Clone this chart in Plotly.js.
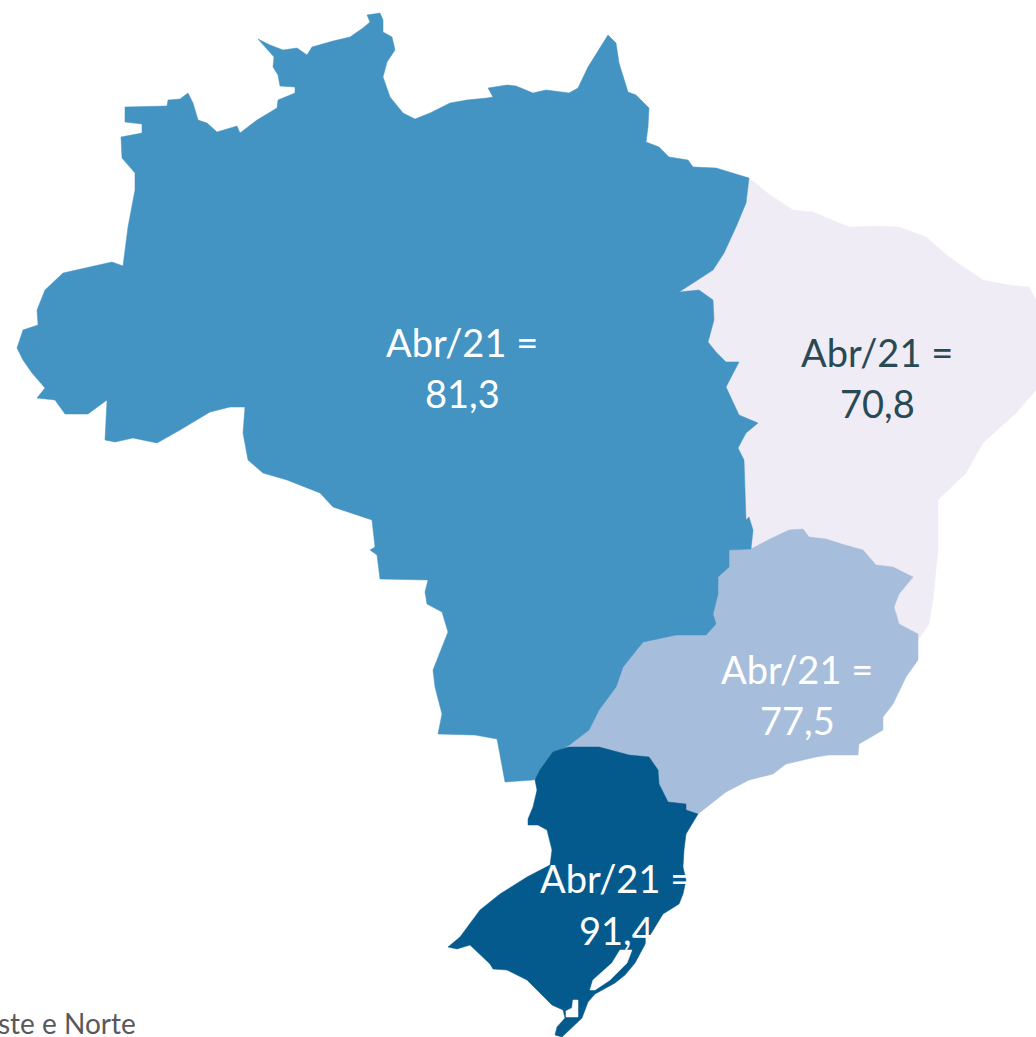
<!DOCTYPE html>
<html><head><meta charset="utf-8">
<script src="https://cdn.plot.ly/plotly-3.0.1.min.js"></script>
<style>html,body{margin:0;padding:0;background:#fff}#c{width:1036px;height:1037px}</style>
</head><body><div id="c"></div>
<script>
const regionNames = ["Nordeste","Sudeste","Centro-Oeste e Norte","Sul"];
const regionValues = ["70,8","77,5","81,3","91,4"];
const periodLabel = "Abr/21 =";
const footnote = "ste e Norte";
const nordesteOutline = [[749,178],[770,195],[793,210],[813,212],[849,227],[875,226],[899,227],[926,237],[949,257],[983,280],[1009,285],[1029,287],[1036,300],[1036,390],[1016,413],[983,443],[966,473],[946,493],[938,500],[938,550],[933,600],[929,624],[918,640],[880,620],[820,600],[740,600],[700,400],[680,292]];
const sudesteOutline = [[751,549],[770,539],[789,530],[803,529],[809,537],[826,539],[845,545],[863,550],[876,565],[893,567],[913,577],[899,594],[894,607],[899,624],[918,634],[918,660],[906,677],[893,704],[883,717],[883,730],[859,744],[858,755],[829,755],[816,757],[786,764],[773,774],[749,780],[726,792],[698,814],[680,815],[660,805],[640,770],[568,746],[650,600],[729,550]];
const centroNorteOutline = [[125,107],[167,106],[168,100],[180,99],[188,93],[193,103],[198,120],[207,123],[217,132],[230,128],[237,126],[240,133],[257,120],[277,108],[278,100],[295,93],[295,87],[280,86],[278,75],[273,67],[274,57],[258,39],[270,45],[283,50],[297,48],[307,55],[312,47],[333,41],[350,37],[363,28],[370,22],[367,15],[380,13],[383,20],[383,32],[392,37],[395,50],[387,62],[383,77],[390,97],[403,113],[415,119],[430,113],[450,103],[467,100],[487,98],[493,97],[488,88],[507,85],[516,86],[533,93],[546,90],[569,93],[578,88],[588,67],[608,35],[616,43],[619,63],[628,92],[636,95],[649,108],[648,127],[646,142],[659,147],[669,157],[688,160],[693,167],[716,168],[749,178],[746,203],[736,227],[724,253],[713,270],[693,283],[679,292],[699,290],[713,300],[714,320],[708,342],[716,352],[726,362],[739,362],[736,368],[726,387],[739,415],[758,423],[746,433],[738,448],[744,460],[746,520],[749,517],[753,530],[751,549],[729,550],[729,567],[718,577],[718,594],[713,614],[716,624],[706,635],[676,635],[643,642],[623,667],[616,687],[599,710],[589,730],[568,746],[556,752],[543,770],[536,779],[533,780],[505,782],[498,744],[497,739],[475,735],[438,734],[442,714],[435,687],[433,670],[448,632],[442,612],[427,604],[425,592],[428,580],[380,579],[377,555],[370,550],[375,547],[372,520],[333,507],[320,493],[287,480],[263,473],[248,460],[243,433],[245,407],[230,407],[210,412],[180,430],[157,443],[133,438],[115,442],[105,440],[107,400],[88,414],[65,414],[55,400],[37,398],[45,388],[32,373],[23,360],[17,348],[23,330],[38,325],[37,310],[45,290],[63,273],[97,265],[112,262],[123,266],[128,227],[135,190],[135,173],[122,158],[121,137],[142,133],[142,124],[125,122]];
const sulOutline = [[568,747],[599,747],[629,755],[649,757],[658,770],[659,784],[668,802],[686,804],[686,810],[698,814],[686,834],[684,850],[683,867],[686,880],[683,894],[679,904],[663,914],[649,937],[642,950],[635,963],[625,975],[615,983],[595,994],[588,1002],[582,1018],[567,1032],[562,1037],[555,1035],[557,1027],[565,1018],[563,1010],[552,1005],[540,993],[527,980],[507,970],[493,969],[490,964],[470,945],[457,949],[448,947],[460,937],[480,910],[500,894],[527,877],[550,865],[552,850],[547,830],[538,825],[528,825],[528,819],[533,807],[537,790],[535,780],[540,770],[553,752]];
const lagoaPatos = [[632,950],[620,950],[612,963],[593,980],[590,990],[595,990],[610,980],[627,963]];
const lagoaMirim = [[573,1000],[578,1000],[578,1010],[578,1017],[566,1017],[566,1011],[572,1008]];
const regionColors = ["#F0ECF6","#A6BDDB","#4393C3","#045A8D"];
const labelColors = ["#274A55","#FFFFFF","#FFFFFF","#FFFFFF"];
const labelX = [877,797,462,616];
const line1Y = [352,669,342,878];
const line2Y = [403,720,393,930];
const xs = o => o.map(p => p[0]).concat(o[0][0]);
const ys = o => o.map(p => p[1]).concat(o[0][1]);
const area = (o, color, name) => ({x: xs(o), y: ys(o), mode: "lines", fill: "toself", fillcolor: color, line: {width: 0.5, color: color}, name: name, hoverinfo: "name", showlegend: false});
const traces = [
  area(nordesteOutline, regionColors[0], regionNames[0]),
  area(sudesteOutline, regionColors[1], regionNames[1]),
  area(centroNorteOutline, regionColors[2], regionNames[2]),
  area(sulOutline, regionColors[3], regionNames[3]),
  area(lagoaPatos, "#FFFFFF", "Lagoa dos Patos"),
  area(lagoaMirim, "#FFFFFF", "Lagoa Mirim")
];
const labelFont = i => ({family: "Lato, Carlito, sans-serif", size: 38, color: labelColors[i]});
const annotations = [];
regionValues.forEach((v, i) => {
  annotations.push({x: labelX[i], y: line1Y[i], xref: "x", yref: "y", showarrow: false, text: periodLabel, font: labelFont(i)});
  annotations.push({x: labelX[i], y: line2Y[i], xref: "x", yref: "y", showarrow: false, text: v, font: labelFont(i)});
});
annotations.push({x: 138, y: 1023, xref: "x", yref: "y", xanchor: "right", showarrow: false, text: footnote, font: {family: "Lato, sans-serif", size: 28, color: "#595959"}});
Plotly.newPlot("c", traces, {
  width: 1036, height: 1037, margin: {l: 0, r: 0, t: 0, b: 0},
  paper_bgcolor: "#FFFFFF", plot_bgcolor: "#FFFFFF", showlegend: false,
  xaxis: {range: [0, 1036], visible: false, fixedrange: true},
  yaxis: {range: [1037, 0], visible: false, fixedrange: true},
  annotations: annotations
}, {displayModeBar: false, staticPlot: true});
</script></body></html>
